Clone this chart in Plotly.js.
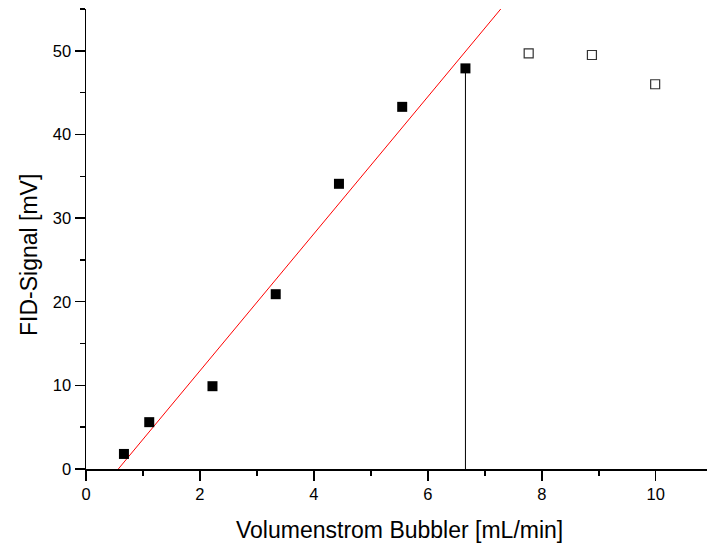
<!DOCTYPE html>
<html>
<head>
<meta charset="utf-8">
<script src="https://cdn.plot.ly/plotly-3.0.1.min.js"></script>
<style>html,body{margin:0;padding:0;background:#fff;}#chart{width:707px;height:547px;}</style>
</head>
<body>
<div id="chart"></div>
<script>
var filledX = [0.666, 1.11, 2.22, 3.33, 4.44, 5.55, 6.66];
var filledY = [1.8, 5.6, 9.9, 20.9, 34.1, 43.3, 47.9];
var openX = [7.77, 8.88, 9.99];
var openY = [49.7, 49.5, 46.0];
var fitX = [0.567, 7.28];
var fitY = [0, 55];
var dropX = [6.66, 6.66];
var dropY = [0, 47.9];
var xTitle = 'Volumenstrom Bubbler [mL/min]';
var yTitle = 'FID-Signal [mV]';

var font = "'Liberation Sans', Arial, Helvetica, sans-serif";

var traces = [
  {x: fitX, y: fitY, mode: 'lines', line: {color: '#ff0000', width: 1}, hoverinfo: 'skip'},
  {x: dropX, y: dropY, mode: 'lines', line: {color: '#000000', width: 1}, hoverinfo: 'skip'},
  {x: filledX, y: filledY, mode: 'markers', marker: {symbol: 'square', size: 10, color: '#000000', line: {width: 0}}, cliponaxis: false},
  {x: openX, y: openY, mode: 'markers', marker: {symbol: 'square-open', size: 9, color: '#333333', line: {width: 1.2}}, cliponaxis: false}
];

var layout = {
  width: 707, height: 547,
  margin: {l: 86, r: 0, t: 9, b: 78},
  showlegend: false,
  paper_bgcolor: '#ffffff', plot_bgcolor: '#ffffff',
  font: {family: font, color: '#000000', size: 16},
  xaxis: {
    range: [0, 10.9], dtick: 2, tick0: 0,
    showgrid: false, zeroline: false,
    showline: true, linecolor: '#000', linewidth: 1.5,
    ticks: 'outside', ticklen: 10, tickwidth: 1.5, tickcolor: '#000',
    minor: {ticks: 'outside', ticklen: 5, tickwidth: 1.5, tickcolor: '#000', dtick: 1},
    tickfont: {size: 16.5, family: font}
  },
  yaxis: {
    range: [0, 55], dtick: 10, tick0: 0,
    showgrid: false, zeroline: false,
    showline: true, linecolor: '#000', linewidth: 1.5,
    ticks: 'outside', ticklen: 10, tickwidth: 1.5, tickcolor: '#000',
    minor: {ticks: 'outside', ticklen: 5, tickwidth: 1.5, tickcolor: '#000', dtick: 5},
    tickfont: {size: 16.5, family: font}
  },
  annotations: [
    {text: xTitle, xref: 'paper', yref: 'paper', x: 0.5056, y: -0.1326, xanchor: 'center', yanchor: 'middle',
     showarrow: false, font: {size: 23, family: font, color: '#000'}},
    {text: yTitle, xref: 'paper', yref: 'paper', x: -0.0918, y: 0.4652, xanchor: 'center', yanchor: 'middle',
     textangle: -90, showarrow: false, font: {size: 23, family: font, color: '#000'}}
  ]
};

Plotly.newPlot('chart', traces, layout, {displayModeBar: false, staticPlot: true});
</script>
</body>
</html>
